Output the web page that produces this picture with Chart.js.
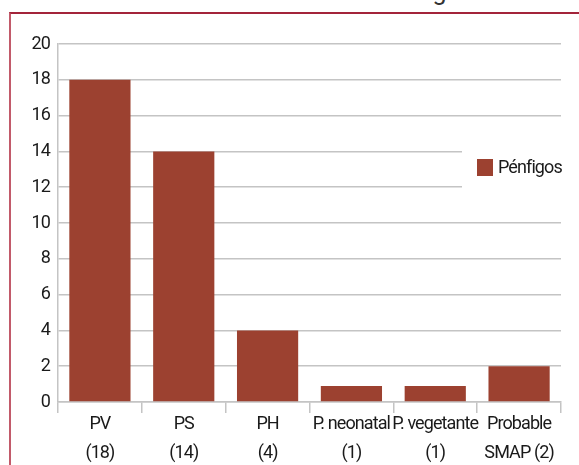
<!DOCTYPE html>
<html>
<head>
<meta charset="utf-8">
<script src="https://cdn.jsdelivr.net/npm/chart.js@4/dist/chart.umd.min.js"></script>
<style>
	html, body { margin: 0; padding: 0; background: #fff; overflow: hidden; }
	#page { position: relative; width: 579px; height: 465px; overflow: hidden; }
	#lead { position: absolute; left: 10px; top: -23px; white-space: nowrap; line-height: 29px;
		font: 25px Roboto, sans-serif; color: #333; }
	#frame { position: absolute; left: 9px; top: 12px; width: 620px; height: 520px;
		border-top: 2px solid #a3243a; border-left: 2px solid #c25a6a; }
	#chart { position: absolute; left: 0; top: 0; }
</style>
</head>
<body>
<div id="page">
	<div id="lead">resultados no son estadísticamente significativos.</div>
	<div id="frame"></div>
	<canvas id="chart" width="579" height="465"></canvas>
</div>
<script>
// |------------|
// |   Données  |
// |------------|

const categories = [
	['PV', '(18)'],
	['PS', '(14)'],
	['PH', '(4)'],
	['P. neonatal', '(1)'],
	['P. vegetante', '(1)'],
	['Probable', 'SMAP (2)']
]
const series_name = 'Pénfigos'
const series_values = [18, 14, 4, 0.9, 0.9, 2]
const y_ticks = [0, 2, 4, 6, 8, 10, 12, 14, 16, 18, 20]

const bar_color = '#9c4130'
const font_family = "Roboto, sans-serif"

Chart.defaults.font.family = font_family
Chart.defaults.font.size = 18
Chart.defaults.color = '#1a1a1a'

// Texte un peu resserré (police condensée dans l'original)
const tight_text = {
	id: 'tight_text',
	beforeInit(chart) { chart.ctx.letterSpacing = '-0.9px' },
	beforeDraw(chart) { chart.ctx.letterSpacing = '-0.9px' }
}

// Légende dessinée dans la zone du graphique (fond blanc par-dessus la grille)
const inner_legend = {
	id: 'inner_legend',
	afterDatasetsDraw(chart) {
		const ctx = chart.ctx
		const ds = chart.data.datasets[0]
		ctx.save()
		ctx.fillStyle = '#fff'
		ctx.fillRect(462, 130, 100, 75)
		ctx.fillStyle = ds.backgroundColor
		ctx.fillRect(477, 159, 16, 17)
		ctx.fillStyle = '#1a1a1a'
		ctx.font = '18px ' + font_family
		ctx.textBaseline = 'middle'
		ctx.textAlign = 'left'
		ctx.fillText(ds.label, 498, 168)
		ctx.restore()
	}
}

new Chart(document.getElementById('chart'), {
	type: 'bar',
	data: {
		labels: categories,
		datasets: [{
			label: series_name,
			data: series_values,
			backgroundColor: bar_color,
			borderWidth: 0,
			categoryPercentage: 1,
			barPercentage: 0.73
		}]
	},
	options: {
		responsive: false,
		animation: false,
		layout: {
			padding: { left: 10, right: 18, top: 44, bottom: 0 }
		},
		plugins: {
			legend: { display: false },
			tooltip: { enabled: false }
		},
		scales: {
			x: {
				grid: {
					offset: true,
					drawOnChartArea: false,
					color: '#c4c4c4',
					tickLength: 11,
					lineWidth: 1.5
				},
				border: { color: '#c4c4c4', width: 1.5 },
				ticks: {
					maxRotation: 0,
					autoSkip: false,
					padding: -3,
					font: { size: 18, lineHeight: 1.6 }
				},
				afterFit: (scale) => { scale.height = 63 }
			},
			y: {
				min: 0,
				max: 20,
				afterBuildTicks: (scale) => { scale.ticks = y_ticks.map(v => ({ value: v })) },
				grid: {
					color: '#c4c4c4',
					drawTicks: false,
					lineWidth: 1.5
				},
				border: { color: '#c4c4c4', width: 1.5 },
				ticks: {
					padding: 8,
					font: { size: 18 }
				},
				afterFit: (scale) => { scale.width = 48 }
			}
		}
	},
	plugins: [tight_text, inner_legend]
})
</script>
</body>
</html>
